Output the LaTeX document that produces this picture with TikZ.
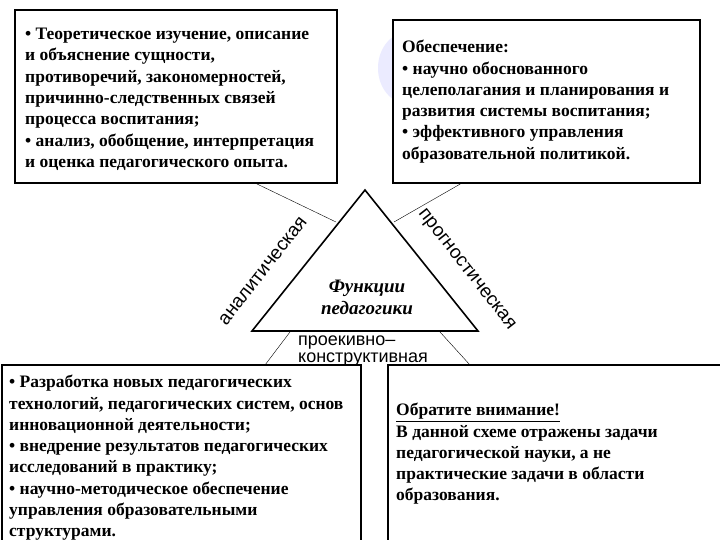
\documentclass[tikz,border=0pt]{standalone}
\usepackage{fontspec}
\setmainfont{Liberation Serif}
\newfontfamily\sansf{Liberation Sans}
\begin{document}
\begin{tikzpicture}[x=1pt,y=-1pt,
  box/.style={draw,line width=1.2pt},
  txt/.style={anchor=north west,align=left,font=\fontsize{17.5}{21.3}\selectfont\bfseries,inner sep=0pt},
  thin/.style={line width=0.4pt}]
\useasboundingbox (0,0) rectangle (720,540);
\fill[white] (0,0) rectangle (720,540);
\fill[blue!8] (408,68) ellipse (30 and 36);
\draw[box,fill=white] (15,10) rectangle (337,183);
\draw[box,fill=white] (393,20) rectangle (700,183);
\node[txt] (t1) at (25,28) {• Теоретическое изучение, описание\\и объяснение сущности,\\противоречий, закономерностей,\\причинно-следственных связей\\процесса воспитания;\\• анализ, обобщение, интерпретация\\и оценка педагогического опыта.};
\node[txt] (t2) at (402,40) {Обеспечение:\\• научно обоснованного\\целеполагания и планирования и\\развития системы воспитания;\\• эффективного управления\\образовательной политикой.};
\coordinate (A) at (365,190);
\coordinate (B) at (252,331);
\coordinate (C) at (478,331);
\draw[line width=1.6pt] (A) -- (B) -- (C) -- cycle;
\coordinate (b1) at (255,183); \coordinate (s1) at (336,222);
\coordinate (b2) at (462,183); \coordinate (s2) at (394,222);
\coordinate (b3) at (290,332); \coordinate (s3) at (265,365);
\coordinate (b4) at (440,332); \coordinate (s4) at (470,365);
\draw[thin] (b1) -- (s1); \draw[thin] (b2) -- (s2);
\draw[thin] (b3) -- (s3); \draw[thin] (b4) -- (s4);
\node[font=\sansf\fontsize{19}{20}\selectfont,rotate=52] (an) at (263,271) {аналитическая};
\node[font=\sansf\fontsize{19}{20}\selectfont,rotate=-52] (pr) at (466,270) {прогностическая};
\node[font=\fontsize{19}{22}\selectfont\bfseries\itshape,align=center] (f) at (367,297) {Функции\\педагогики};
\draw[box,fill=white] (2,365) rectangle (361,545);
\draw[box,fill=white] (388,365) rectangle (722,545);
\node[font=\sansf\fontsize{18}{17}\selectfont,align=left,anchor=north west,inner sep=0pt] (pk) at (298,336) {проекивно–\\конструктивная};
\node[txt] (t3) at (9,375) {• Разработка новых педагогических\\технологий, педагогических систем, основ\\инновационной деятельности;\\• внедрение результатов педагогических\\исследований в практику;\\• научно-методическое обеспечение\\управления образовательными\\структурами.};
\node[txt] (t4) at (396,403) {\underline{Обратите внимание!}\\В данной схеме отражены задачи\\педагогической науки, а не\\практические задачи в области\\образования.};
\end{tikzpicture}
\end{document}
